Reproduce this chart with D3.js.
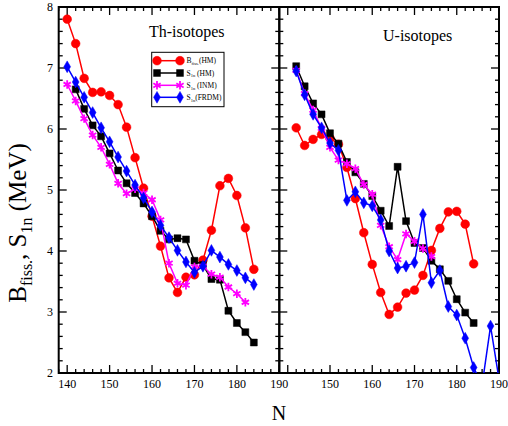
<!DOCTYPE html>
<html>
<head>
<meta charset="utf-8">
<script src="https://cdn.jsdelivr.net/npm/d3@7"></script>
<style>
  body { margin: 0; background: #fff; }
  svg { font-family: "Liberation Serif", "Times New Roman", serif; }
</style>
</head>
<body>
<svg width="508" height="426"></svg>
<script>
// Th-isotopes (left panel)
var thN     = [140, 142, 144, 146, 148, 150, 152, 154, 156, 158, 160, 162, 164, 166, 168, 170, 172, 174, 176, 178, 180, 182, 184];
var thBHM   = [7.80, 7.40, 6.83, 6.60, 6.61, 6.55, 6.40, 6.03, 5.53, 5.03, 4.57, 4.08, 3.56, 3.32, 3.57, 3.61, 3.85, 4.34, 5.07, 5.19, 4.91, 4.38, 3.70];
var thSHM   = [null, 6.65, 6.33, 6.06, 5.88, 5.60, 5.32, 5.11, 4.95, 4.78, 4.57, 4.33, 4.19, 4.21, 4.19, 3.84, 3.77, 3.54, 3.53, 3.02, 2.82, 2.67, 2.50];
var thSINM  = [6.73, 6.46, 6.17, 5.90, 5.70, 5.42, 5.11, 4.94, 5.02, 4.95, 4.84, 4.51, 3.80, 3.47, 3.44, 3.74, 3.75, 3.62, 3.57, 3.41, 3.30, 3.16, null];
var thSFRDM = [7.02, 6.77, 6.52, 6.27, 6.02, 5.79, 5.54, 5.31, 5.08, 4.87, 4.64, 4.42, 4.22, 4.01, 3.82, 3.65, 3.75, 4.01, 3.90, 3.78, 3.68, 3.56, 3.45];

// U-isotopes (right panel)
var uN     = [142, 144, 146, 148, 150, 152, 154, 156, 158, 160, 162, 164, 166, 168, 170, 172, 174, 176, 178, 180, 182, 184, 186, 188, 190];
var uBHM   = [6.02, 5.73, 5.83, 5.91, 5.85, 5.75, 5.37, 4.86, 4.30, 3.78, 3.32, 2.96, 3.08, 3.31, 3.36, 3.60, 4.01, 4.37, 4.64, 4.65, 4.44, 3.79, null, null, null];
var uSHM   = [7.03, 6.70, 6.42, 6.24, 5.93, 5.76, 5.46, 5.29, 5.10, 4.90, 4.66, 4.41, 5.38, 4.49, 4.13, 4.05, 3.84, 3.70, 3.51, 3.21, 2.99, 2.82, null, null, null];
var uSINM  = [6.96, 6.58, 6.31, 6.01, 5.70, 5.49, 5.43, 5.35, 5.09, 4.93, 4.42, 4.07, 3.86, 4.28, 4.16, 4.04, 3.91, null, null, null, null, null, null, null, null];
var uSFRDM = [6.95, 6.56, 6.24, 6.02, 5.77, 5.65, 4.83, 4.97, 4.79, 4.74, 4.51, 4.00, 3.72, 3.75, 3.81, 4.60, 3.48, 3.68, 3.09, 2.95, 2.57, 2.09, 1.80, 2.77, 1.90];

var xTicksLeft  = [140, 150, 160, 170, 180, 190];
var xTicksRight = [150, 160, 170, 180, 190];
var yTicks = [2, 3, 4, 5, 6, 7, 8];

var seriesNames = ["B_fiss.(HM)", "S_1n (HM)", "S_1n (INM)", "S_1n(FRDM)"];
var colors = ["#ff0000", "#000000", "#ff00ff", "#0000ff"];

var svg = d3.select("svg");
var yTop = 7, yBottom = 373;

var y = d3.scaleLinear().domain([2, 8]).range([yBottom, yTop]);
var xL = d3.scaleLinear().domain([138, 190]).range([58.7, 279.3]);
var xR = d3.scaleLinear().domain([138, 190]).range([279.3, 499]);

function marker(i) {
  if (i == 0) return d3.symbol(d3.symbolCircle, 60)();
  if (i == 1) return d3.symbol(d3.symbolSquare, 48)();
  if (i == 2) return d3.symbol(d3.symbolAsterisk, 50)();
  return d3.symbol(d3.symbolDiamond, 40)();
}

function panel(x, ns, data, id, ticks, showY, title, tx, ty) {
  var g = svg.append("g");

  svg.append("clipPath").attr("id", id)
    .append("rect")
      .attr("x", x.range()[0]).attr("y", yTop)
      .attr("width", x.range()[1] - x.range()[0]).attr("height", yBottom - yTop);

  // ticks, inward on all four sides
  var minorX = d3.range(138, 191, 2), minorY = d3.range(2, 8.01, 0.2);
  var tk = g.append("g").attr("stroke", "#000").attr("stroke-width", 1.3);
  minorX.forEach(function(v) {
    var len = (v % 10 == 0) ? 8 : 4;
    tk.append("line").attr("x1", x(v)).attr("x2", x(v)).attr("y1", yBottom).attr("y2", yBottom - len);
    tk.append("line").attr("x1", x(v)).attr("x2", x(v)).attr("y1", yTop).attr("y2", yTop + len);
  });
  minorY.forEach(function(v) {
    var len = (Math.abs(v - Math.round(v)) < 1e-6) ? 8 : 4;
    tk.append("line").attr("x1", x.range()[0]).attr("x2", x.range()[0] + len).attr("y1", y(v)).attr("y2", y(v));
    tk.append("line").attr("x1", x.range()[1]).attr("x2", x.range()[1] - len).attr("y1", y(v)).attr("y2", y(v));
  });

  g.append("rect")
    .attr("x", x.range()[0]).attr("y", yTop)
    .attr("width", x.range()[1] - x.range()[0]).attr("height", yBottom - yTop)
    .attr("fill", "none").attr("stroke", "#000").attr("stroke-width", 2);

  g.append("g").selectAll("text").data(ticks).enter().append("text")
    .attr("x", function(d) { return x(d); })
    .attr("y", 388)
    .attr("text-anchor", "middle")
    .attr("font-size", 12)
    .text(function(d) { return d; });

  if (showY) {
    g.append("g").selectAll("text").data(yTicks).enter().append("text")
      .attr("x", 53)
      .attr("y", function(d) { return y(d) + 4; })
      .attr("text-anchor", "end")
      .attr("font-size", 12)
      .text(function(d) { return d; });
  }

  var plot = g.append("g").attr("clip-path", "url(#" + id + ")");
  data.forEach(function(vals, i) {
    var pts = ns.map(function(n, j) { return [n, vals[j]]; })
      .filter(function(p) { return p[1] != null; });
    var line = d3.line()
      .x(function(p) { return x(p[0]); })
      .y(function(p) { return y(p[1]); });
    plot.append("path")
      .attr("d", line(pts))
      .attr("fill", "none")
      .attr("stroke", colors[i])
      .attr("stroke-width", 1.5);
    plot.append("g").selectAll("path").data(pts).enter().append("path")
      .attr("transform", function(p) { return "translate(" + x(p[0]) + "," + y(p[1]) + ")"; })
      .attr("d", marker(i))
      .attr("fill", colors[i])
      .attr("stroke", colors[i])
      .attr("stroke-width", i == 2 ? 1.8 : 0.5);
  });

  g.append("text")
    .attr("x", tx).attr("y", ty)
    .attr("font-size", 16)
    .text(title);
}

panel(xL, thN, [thBHM, thSHM, thSINM, thSFRDM], "clipL", xTicksLeft, true, "Th-isotopes", 149, 37);
panel(xR, uN, [uBHM, uSHM, uSINM, uSFRDM], "clipR", xTicksRight, false, "U-isotopes", 383, 41);

// legend
var lg = svg.append("g");
lg.append("rect")
  .attr("x", 151.7).attr("y", 52.3).attr("width", 72.3).attr("height", 54.4)
  .attr("fill", "#fff").attr("stroke", "#000").attr("stroke-width", 1);
var rowsY = [60.7, 73, 85.3, 97.3];
seriesNames.forEach(function(name, i) {
  var ry = rowsY[i];
  lg.append("line").attr("x1", 157).attr("x2", 180).attr("y1", ry).attr("y2", ry)
    .attr("stroke", colors[i]).attr("stroke-width", 1.5);
  [157, 180].forEach(function(mx) {
    lg.append("path")
      .attr("transform", "translate(" + mx + "," + ry + ")")
      .attr("d", marker(i))
      .attr("fill", colors[i]).attr("stroke", colors[i])
      .attr("stroke-width", i == 2 ? 1.8 : 0.5);
  });
  var parts = name.split("_");
  var rest = parts[1];
  var sub, after;
  if (rest.indexOf("fiss.") == 0) { sub = "fiss."; after = rest.slice(5); }
  else { sub = "1n"; after = rest.slice(2); }
  var t = lg.append("text").attr("x", 186.5).attr("y", ry + 2.5).attr("font-size", 7.5);
  t.append("tspan").text(parts[0]);
  t.append("tspan").attr("font-size", 4.5).attr("dy", 1.8).text(sub);
  t.append("tspan").attr("dy", -1.8).text(after);
});

// axis titles
var yt = svg.append("text")
  .attr("transform", "translate(26,223) rotate(-90)")
  .attr("text-anchor", "middle")
  .attr("font-size", 25);
yt.append("tspan").text("B");
yt.append("tspan").attr("font-size", 16).attr("dy", 6).text("fiss.");
yt.append("tspan").attr("dy", -6).text(", S");
yt.append("tspan").attr("font-size", 16).attr("dy", 6).text("1n");
yt.append("tspan").attr("dy", -6).text(" (MeV)");

svg.append("text")
  .attr("x", 279).attr("y", 420)
  .attr("text-anchor", "middle")
  .attr("font-size", 20)
  .text("N");
</script>
</body>
</html>
